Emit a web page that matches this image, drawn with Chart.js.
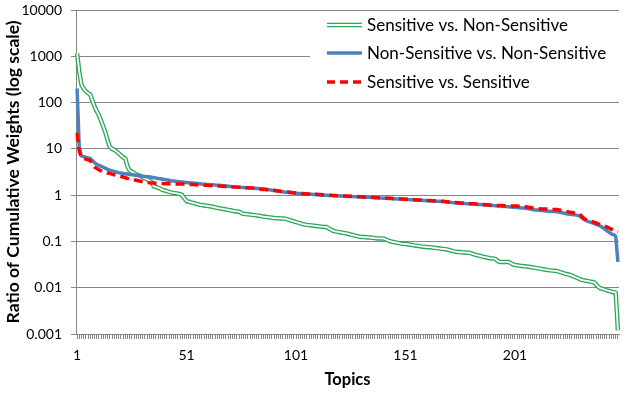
<!DOCTYPE html>
<html><head><meta charset="utf-8">
<script src="https://cdn.jsdelivr.net/npm/chart.js@4"></script>
<style>html,body{margin:0;padding:0;background:#fff}#wrap{width:629px;height:394px;position:relative}</style>
</head><body><div id="wrap"><canvas id="c" width="629" height="394"></canvas></div>
<script>
const seriesNames = ['Sensitive vs. Non-Sensitive', 'Non-Sensitive vs. Non-Sensitive', 'Sensitive vs. Sensitive'];
const topicCount = 248;
const topics = Array.from({length: topicCount}, (_, i) => String(i + 1));
const xTickLabels = ['1', '51', '101', '151', '201'];
const yTickValues = [0.001, 0.01, 0.1, 1, 10, 100, 1000, 10000];
const yTickLabels = ['0.001', '0.01', '0.1', '1', '10', '100', '1000', '10000'];

const sensVsNon = [
1150,460,240,200,175,160,150,110,82,65,
53,40,30,22,15,11,10,9.5,8.8,8,
7.2,6.6,6.2,4.2,3.4,3.2,3.0,2.8,2.7,2.6,
2.45,2.3,2.2,2.05,1.94,1.55,1.5,1.45,1.38,1.3,
1.26,1.22,1.18,1.15,1.12,1.1,1.08,1.05,1.0,0.85,
0.74,0.72,0.70,0.68,0.66,0.64,0.62,0.61,0.60,0.59,
0.58,0.57,0.56,0.545,0.53,0.52,0.51,0.50,0.49,0.48,
0.47,0.46,0.45,0.445,0.44,0.41,0.395,0.39,0.385,0.38,
0.375,0.37,0.365,0.36,0.35,0.345,0.34,0.335,0.33,0.325,
0.32,0.318,0.316,0.314,0.312,0.31,0.3,0.29,0.28,0.27,
0.262,0.255,0.245,0.237,0.232,0.228,0.225,0.222,0.219,0.216,
0.213,0.21,0.208,0.206,0.204,0.19,0.178,0.169,0.165,0.161,
0.158,0.155,0.152,0.149,0.145,0.141,0.137,0.133,0.13,0.126,
0.125,0.124,0.123,0.122,0.121,0.12,0.118,0.116,0.116,0.116,
0.115,0.11,0.105,0.101,0.098,0.096,0.094,0.092,0.09,0.089,
0.088,0.087,0.085,0.084,0.082,0.081,0.08,0.078,0.077,0.076,
0.075,0.075,0.074,0.073,0.072,0.071,0.07,0.069,0.068,0.067,
0.065,0.063,0.061,0.06,0.059,0.059,0.058,0.058,0.057,0.057,
0.055,0.053,0.051,0.05,0.049,0.047,0.046,0.045,0.044,0.043,
0.043,0.042,0.038,0.036,0.036,0.036,0.036,0.036,0.034,0.032,
0.031,0.0305,0.030,0.0295,0.029,0.029,0.0285,0.028,0.0275,0.027,
0.0265,0.026,0.0255,0.025,0.0245,0.024,0.0237,0.0234,0.0232,0.023,
0.0222,0.0215,0.0208,0.02,0.0195,0.019,0.0182,0.0174,0.0166,0.0158,
0.015,0.0146,0.0143,0.014,0.0137,0.0134,0.0132,0.0118,0.0105,0.0097,
0.0094,0.0091,0.0088,0.0085,0.0082,0.008,0.0078,0.0012
];

const nonVsNon = [
200,10,7,6.8,6.6,6.4,6.2,5.6,5.0,4.6,
4.4,4.2,4.0,3.8,3.6,3.46,3.35,3.25,3.15,3.06,
3.0,2.94,2.9,2.85,2.8,2.76,2.72,2.68,2.64,2.6,
2.57,2.54,2.51,2.49,2.44,2.39,2.34,2.29,2.25,2.21,
2.17,2.13,2.09,2.05,2.02,1.99,1.96,1.94,1.92,1.9,
1.88,1.86,1.84,1.82,1.8,1.78,1.76,1.74,1.73,1.71,
1.7,1.68,1.67,1.65,1.64,1.63,1.61,1.6,1.58,1.56,
1.54,1.52,1.5,1.49,1.48,1.47,1.46,1.45,1.44,1.43,
1.42,1.41,1.4,1.39,1.38,1.36,1.34,1.32,1.3,1.28,
1.26,1.24,1.22,1.2,1.18,1.16,1.15,1.13,1.12,1.11,
1.1,1.09,1.08,1.07,1.06,1.05,1.045,1.04,1.035,1.03,
1.02,1.01,1.0,0.995,0.99,0.985,0.98,0.975,0.97,0.965,
0.96,0.955,0.95,0.945,0.94,0.935,0.93,0.925,0.92,0.915,
0.91,0.905,0.9,0.895,0.89,0.885,0.88,0.875,0.87,0.865,
0.86,0.855,0.85,0.845,0.84,0.835,0.83,0.825,0.82,0.815,
0.81,0.805,0.8,0.795,0.79,0.785,0.78,0.775,0.77,0.765,
0.76,0.755,0.75,0.745,0.74,0.735,0.73,0.725,0.72,0.71,
0.7,0.69,0.685,0.68,0.675,0.67,0.665,0.66,0.655,0.65,
0.645,0.64,0.635,0.63,0.625,0.62,0.615,0.61,0.605,0.6,
0.595,0.59,0.585,0.58,0.575,0.57,0.565,0.56,0.555,0.55,
0.545,0.54,0.535,0.53,0.525,0.52,0.51,0.5,0.49,0.48,
0.475,0.47,0.465,0.46,0.455,0.45,0.447,0.444,0.441,0.438,
0.43,0.42,0.41,0.4,0.39,0.385,0.38,0.375,0.37,0.365,
0.34,0.31,0.29,0.275,0.265,0.255,0.245,0.235,0.225,0.215,
0.2,0.185,0.17,0.157,0.145,0.14,0.13,0.036
];

const sensVsSens = [
22,9,6.4,6.2,6.0,5.8,5.6,4.6,4.0,3.8,
3.5,3.35,3.2,3.1,3.0,2.94,2.85,2.75,2.65,2.58,
2.52,2.46,2.38,2.3,2.25,2.2,2.15,2.1,2.05,2.0,
1.95,1.92,1.89,1.86,1.84,1.82,1.8,1.79,1.78,1.78,
1.77,1.77,1.76,1.76,1.75,1.75,1.74,1.74,1.73,1.73,
1.72,1.71,1.7,1.69,1.68,1.67,1.66,1.65,1.64,1.63,
1.62,1.61,1.6,1.59,1.58,1.57,1.56,1.55,1.54,1.53,
1.52,1.51,1.5,1.49,1.48,1.47,1.46,1.45,1.44,1.43,
1.42,1.4,1.38,1.36,1.34,1.33,1.32,1.31,1.3,1.29,
1.27,1.25,1.23,1.21,1.2,1.19,1.18,1.16,1.14,1.12,
1.11,1.1,1.09,1.08,1.07,1.06,1.055,1.05,1.045,1.04,
1.035,1.03,1.02,1.01,1.0,0.995,0.99,0.985,0.98,0.975,
0.97,0.965,0.96,0.955,0.95,0.945,0.94,0.935,0.93,0.925,
0.92,0.915,0.91,0.905,0.9,0.895,0.89,0.885,0.88,0.875,
0.87,0.865,0.86,0.855,0.85,0.845,0.84,0.835,0.83,0.825,
0.82,0.815,0.81,0.805,0.8,0.795,0.79,0.785,0.78,0.775,
0.77,0.765,0.76,0.755,0.75,0.745,0.74,0.735,0.73,0.72,
0.71,0.7,0.695,0.69,0.685,0.68,0.675,0.67,0.665,0.66,
0.655,0.65,0.645,0.64,0.635,0.63,0.625,0.62,0.615,0.61,
0.605,0.6,0.598,0.596,0.594,0.592,0.59,0.588,0.586,0.584,
0.582,0.58,0.578,0.576,0.57,0.56,0.55,0.54,0.53,0.52,
0.515,0.51,0.505,0.5,0.5,0.5,0.495,0.49,0.49,0.49,
0.48,0.47,0.46,0.45,0.44,0.43,0.42,0.41,0.405,0.4,
0.37,0.33,0.3,0.29,0.28,0.27,0.26,0.25,0.24,0.232,
0.225,0.215,0.205,0.195,0.185,0.175,0.165,0.16
];

const GREEN = '#2fa85a';
const BLUE = '#4f81bd';
const RED = '#ff0000';
const GRID = '#868686';
const FONT = 'Lato';

const legendPlugin = {
  id: 'boxLegend',
  afterDraw(chart) {
    const ctx = chart.ctx;
    ctx.save();
    ctx.fillStyle = '#fff';
    ctx.fillRect(310, 13, 309, 87);
    const rows = [25, 53, 82];
    const x0 = 327, x1 = 362;
    ctx.lineCap = 'butt';
    ctx.strokeStyle = GREEN; ctx.lineWidth = 4.5;
    ctx.beginPath(); ctx.moveTo(x0, rows[0]); ctx.lineTo(x1, rows[0]); ctx.stroke();
    ctx.strokeStyle = '#fff'; ctx.lineWidth = 1.8;
    ctx.beginPath(); ctx.moveTo(x0, rows[0]); ctx.lineTo(x1, rows[0]); ctx.stroke();
    ctx.strokeStyle = BLUE; ctx.lineWidth = 3.5;
    ctx.beginPath(); ctx.moveTo(x0, rows[1]); ctx.lineTo(x1, rows[1]); ctx.stroke();
    ctx.strokeStyle = RED; ctx.lineWidth = 3.5; ctx.setLineDash([8, 5]);
    ctx.beginPath(); ctx.moveTo(x0, rows[2]); ctx.lineTo(x1, rows[2]); ctx.stroke();
    ctx.setLineDash([]);
    ctx.fillStyle = '#000';
    ctx.font = '17px ' + FONT;
    ctx.textBaseline = 'middle';
    ctx.textAlign = 'left';
    seriesNames.forEach((n, i) => ctx.fillText(n, 367, rows[i] + 1));
    ctx.restore();
  }
};

new Chart(document.getElementById('c'), {
  type: 'line',
  data: {
    labels: topics,
    datasets: [
      {label: seriesNames[0], data: sensVsNon, borderColor: GREEN, borderWidth: 4.5, order: 4},
      {label: '', data: sensVsNon, borderColor: '#ffffff', borderWidth: 1.8, order: 3},
      {label: seriesNames[1], data: nonVsNon, borderColor: BLUE, borderWidth: 3.5, order: 2},
      {label: seriesNames[2], data: sensVsSens, borderColor: RED, borderWidth: 3.5, borderDash: [9, 5], order: 1}
    ]
  },
  options: {
    responsive: false,
    animation: false,
    devicePixelRatio: 1,
    layout: {padding: {top: 10, right: 10, left: 0, bottom: 0}},
    elements: {point: {radius: 0}, line: {tension: 0, fill: false, borderJoinStyle: 'round'}},
    plugins: {legend: {display: false}, tooltip: {enabled: false}},
    scales: {
      x: {
        type: 'category',
        offset: true,
        afterFit(s) { s.height = 60; s.paddingLeft = 0; s.paddingRight = 0; },
        ticks: {
          autoSkip: false, maxRotation: 0, minRotation: 0, padding: 8, color: '#000',
          font: {family: FONT, size: 14},
          callback(v, i) { const l = topics[i]; return xTickLabels.includes(l) ? l : ''; }
        },
        grid: {drawOnChartArea: false, drawTicks: true, tickLength: 5, color: GRID},
        border: {display: true, color: GRID},
        title: {display: true, text: 'Topics', color: '#000', font: {family: FONT, size: 16.5, weight: 'bold'}, padding: {top: 0, bottom: 4}}
      },
      y: {
        type: 'logarithmic',
        min: 0.001, max: 10000,
        afterFit(s) { s.width = 76; s.paddingTop = 0; s.paddingBottom = 0; },
        afterBuildTicks(s) { s.ticks = yTickValues.map(v => ({value: v})); },
        ticks: {
          padding: 9, color: '#000', font: {family: FONT, size: 14},
          callback(v) { const i = yTickValues.indexOf(v); return i >= 0 ? yTickLabels[i] : ''; }
        },
        grid: {color: GRID, tickLength: 5, lineWidth: 1},
        border: {display: true, color: GRID},
        title: {display: true, text: 'Ratio of Cumulative Weights (log scale)', color: '#000', font: {family: FONT, size: 17.5, weight: 'bold'}, padding: {top: 3, bottom: 0}}
      }
    }
  },
  plugins: [legendPlugin]
});
</script></body></html>
